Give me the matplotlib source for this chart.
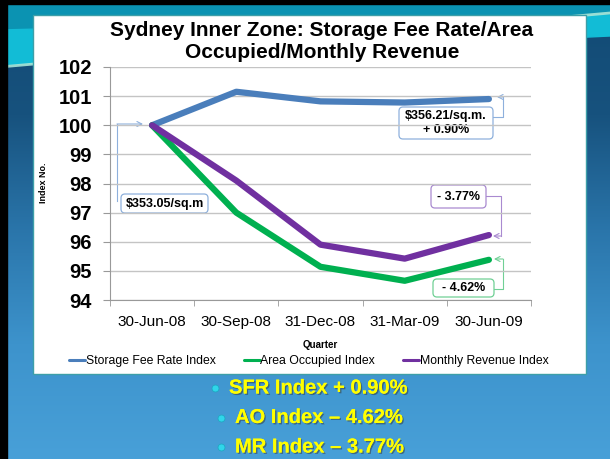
import numpy as np
import matplotlib
matplotlib.use('Agg')
import matplotlib.pyplot as plt
import matplotlib.patheffects as pe
from matplotlib.patches import Rectangle, FancyBboxPatch, Polygon
from matplotlib.colors import LinearSegmentedColormap

plt.rcParams['font.family'] = ['Liberation Sans', 'DejaVu Sans']

# data
quarters = ['30-Jun-08', '30-Sep-08', '31-Dec-08', '31-Mar-09', '30-Jun-09']
sfr_index = [100, 101.15, 100.82, 100.78, 100.90]
ao_index = [100, 97.0, 95.14, 94.66, 95.38]
mr_index = [100, 98.1, 95.9, 95.42, 96.23]
series_names = ['Storage Fee Rate Index', 'Area Occupied Index', 'Monthly Revenue Index']
bullets = ['SFR Index + 0.90%', 'AO Index \u2013 4.62%', 'MR Index \u2013 3.77%']

W, H = 610, 459
fig = plt.figure(figsize=(6.1, 4.59), dpi=100)

def fx(x):
    return x / W

def fy(y):
    return 1 - y / H

# slide background, drawn in pixel coords
bg = fig.add_axes([0, 0, 1, 1], zorder=0)
bg.set_xlim(0, W)
bg.set_ylim(H, 0)
bg.axis('off')
grad = np.linspace(0, 1, 256).reshape(-1, 1)
cmap = LinearSegmentedColormap.from_list('slide', ['#124a74', '#17527e', '#2a75aa', '#3d93cc', '#48a0d8'])
bg.imshow(grad, cmap=cmap, extent=[0, W, H, 0], aspect='auto', zorder=0)
bg.add_patch(Polygon([[0, 0], [W, 0], [W, 18], [0, 30]], closed=True, color='#0b93b2', zorder=1))
bg.add_patch(Polygon([[0, 30], [W, 15], [W, 36], [0, 65]], closed=True, color='#12bcd6', zorder=1))
bg.plot([0, W], [67, 13], color='#a8e6d8', lw=2, alpha=0.9, zorder=1.5)
bg.add_patch(Rectangle((0, 0), W, 4, color='black', zorder=2))
bg.add_patch(Rectangle((0, 0), 7, H, color='black', zorder=2))
# white chart panel
bg.add_patch(Rectangle((33, 15), 553, 359, facecolor='white', edgecolor='#3d9fa8', lw=1, zorder=3))

# bullet points at bottom
for i, txt in enumerate(bullets):
    yy = 388 + i * 29.5
    xb = 215 if i == 0 else 221
    bg.plot(xb, yy, 'o', color='#2fd6ea', ms=5, mec='#1aa8c0', mew=0.5, zorder=4)
    t = bg.text(xb + 14, yy, txt, color='#ffff00', fontsize=14.5, fontweight='bold',
                va='center', ha='left', zorder=4)
    t.set_path_effects([pe.withSimplePatchShadow(offset=(1, -1), shadow_rgbFace='#333333', alpha=0.5),
                        pe.Normal()])

# chart
ax = fig.add_axes([fx(110), fy(300), fx(531) - fx(110), fy(67) - fy(300)], zorder=1)
ax.patch.set_alpha(0)
x = np.arange(len(quarters))
ax.plot(x, sfr_index, color='#4a7ebb', lw=4.5, solid_capstyle='round', label=series_names[0])
ax.plot(x, ao_index, color='#00b050', lw=4.5, solid_capstyle='round', label=series_names[1])
ax.plot(x, mr_index, color='#7030a0', lw=4.5, solid_capstyle='round', label=series_names[2])

ax.set_xlim(-0.5, 4.5)
ax.set_ylim(94, 102)
ax.set_yticks(range(94, 103))
ax.set_yticklabels([str(v) for v in range(94, 103)], fontsize=14.5, fontweight='bold')
ax.set_xticks(x)
ax.set_xticklabels(quarters, fontsize=11)
ax.set_xticks(np.arange(-0.5, 5, 1), minor=True)
ax.tick_params(axis='x', which='major', length=0, pad=11)
ax.tick_params(axis='x', which='minor', length=4, color='#999999')
ax.tick_params(axis='y', length=5, pad=8, color='#999999')
ax.grid(axis='y', color='#c4c4c4', lw=1)
ax.set_axisbelow(True)
for s in ['top', 'right']:
    ax.spines[s].set_visible(False)
for s in ['left', 'bottom']:
    ax.spines[s].set_color('#999999')

fig.text(fx(322), fy(42), 'Sydney Inner Zone: Storage Fee Rate/Area\nOccupied/Monthly Revenue',
         ha='center', va='center', fontsize=15, fontweight='bold', linespacing=1.2)
fig.text(fx(44), fy(183), 'Index No.', rotation=90, ha='center', va='center',
         fontsize=6.5, fontweight='bold')
fig.text(fx(320), fy(345), 'Quarter', ha='center', va='center', fontsize=7, fontweight='bold')

leg = fig.legend(loc='center', bbox_to_anchor=(fx(309), fy(361)), ncol=3, frameon=False,
                 fontsize=8.8, handlelength=1.3, handletextpad=0.05, columnspacing=2.3)
for ln in leg.get_lines():
    ln.set_linewidth(2.2)

# callout boxes
def callout(x0, y0, x1, y1, text, ec):
    bg.add_patch(FancyBboxPatch((x0, y0), x1 - x0, y1 - y0,
                                boxstyle='round,pad=0,rounding_size=4',
                                facecolor='white', edgecolor=ec, lw=0.9, zorder=5))
    bg.text((x0 + x1) / 2, (y0 + y1) / 2, text, ha='center', va='center',
            fontsize=9, fontweight='bold', zorder=6, linespacing=1.15)

def connector(pts, ec):
    xs = [p[0] for p in pts]
    ys = [p[1] for p in pts]
    bg.plot(xs[:-1], ys[:-1], color=ec, lw=0.8, zorder=4)
    bg.annotate('', xy=pts[-1], xytext=pts[-2], xycoords='data', textcoords='data',
                arrowprops=dict(arrowstyle='->,head_length=0.35,head_width=0.18', color=ec,
                                lw=0.8, shrinkA=0, shrinkB=0), zorder=4)

blue_ec = '#8eb0dc'
purp_ec = '#a98ad0'
green_ec = '#70d095'
callout(121, 194, 208, 213, '$353.05/sq.m', blue_ec)
connector([(117, 201), (117, 124), (143, 124)], blue_ec)
callout(399, 107, 493, 139, '$356.21/sq.m.\n+ 0.90%', blue_ec)
connector([(493, 117), (503, 117), (503, 97), (497, 97)], blue_ec)
callout(431, 185, 486, 208, '- 3.77%', purp_ec)
connector([(486, 196), (501, 196), (501, 236), (493, 236)], purp_ec)
callout(433, 279, 494, 297, '- 4.62%', green_ec)
connector([(494, 289), (503, 289), (503, 259), (494, 259)], green_ec)

fig.savefig('out.png', dpi=100)
